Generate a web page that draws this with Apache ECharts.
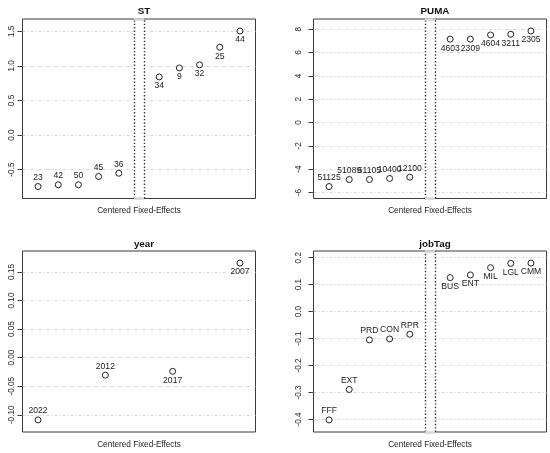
<!DOCTYPE html>
<html><head><meta charset="utf-8">
<script src="https://cdn.jsdelivr.net/npm/echarts@6/dist/echarts.min.js"></script>
<style>html,body{margin:0;padding:0;background:#fff}#c{width:550px;height:453px}</style>
</head><body><div id="c"></div>
<script>
// ---- data ----
const stCats = ['23','42','50','45','36','34','9','32','25','44'];
const stVals = [-0.745,-0.72,-0.72,-0.60,-0.553,0.84,0.97,1.015,1.27,1.505];
const stTicks = [-0.5,0,0.5,1.0,1.5];

const pumaCats = ['51125','51089','51105','10400','12100','4603','2309','4604','3211','2305'];
const pumaVals = [-5.49,-4.89,-4.89,-4.80,-4.69,7.15,7.15,7.51,7.57,7.85];
const pumaTicks = [-6,-4,-2,0,2,4,6,8];

const yearCats = ['2022','2012','2017','2007'];
const yearVals = [-0.109,-0.0306,-0.024,0.1655];
const yearTicks = [-0.10,-0.05,0,0.05,0.10,0.15];

const jobCats = ['FFF','EXT','PRD','CON','RPR','BUS','ENT','MIL','LGL','CMM'];
const jobVals = [-0.402,-0.289,-0.105,-0.1015,-0.084,0.126,0.136,0.163,0.179,0.180];
const jobTicks = [-0.4,-0.3,-0.2,-0.1,0,0.1,0.2];

const titles = ['ST','PUMA','year','jobTag'];
const xLabel = 'Centered Fixed-Effects';

// ---- layout ----
const FONT = 'Liberation Sans, Arial, Helvetica, sans-serif';
const panels = [
  {title: titles[0], cats: stCats, vals: stVals, ticks: stTicks, dec: 1, left: 22.5, top: 19, w: 233, h: 179.5, margin: 7, titleY: 1.5, nameGap: 8},
  {title: titles[1], cats: pumaCats, vals: pumaVals, ticks: pumaTicks, dec: 0, left: 313.5, top: 19, w: 233, h: 179.5, margin: 11, titleY: 1.5, nameGap: 8},
  {title: titles[2], cats: yearCats, vals: yearVals, ticks: yearTicks, dec: 2, left: 22.5, top: 251, w: 233, h: 181, margin: 7, titleY: 234.5, nameGap: 8.5},
  {title: titles[3], cats: jobCats, vals: jobVals, ticks: jobTicks, dec: 1, left: 313.5, top: 251, w: 233, h: 181, margin: 11, titleY: 234.5, nameGap: 8.5}
];

const grid = [], xAxis = [], yAxis = [], series = [], title = [];
panels.forEach((p, k) => {
  const n = p.cats.length;
  const hasGap = n >= 10 && n % 2 === 0;
  const half = n / 2;
  const xs = p.cats.map((c, i) => hasGap ? (i < half ? i + 1 : i + 2) : i + 1);
  const xmin = xs[0], xmax = xs[n - 1];
  const xext = 0.077 * (xmax - xmin);
  const ymin = Math.min(...p.vals), ymax = Math.max(...p.vals);
  const yext = 0.077 * (ymax - ymin);
  const y0 = ymin - yext, y1 = ymax + yext;

  grid.push({left: p.left, top: p.top, width: p.w, height: p.h, show: true,
    borderColor: '#3a3a3a', borderWidth: 1, backgroundColor: 'transparent'});
  title.push({text: p.title, left: p.left + p.w / 2, top: p.titleY, textAlign: 'center',
    textStyle: {fontFamily: FONT, fontSize: 9.8, fontWeight: 'bold', color: '#111'}});
  xAxis.push({type: 'value', gridIndex: k, min: xmin - xext, max: xmax + xext,
    axisLine: {show: false}, axisTick: {show: false}, axisLabel: {show: false}, splitLine: {show: false},
    name: xLabel, nameLocation: 'middle', nameGap: p.nameGap,
    nameTextStyle: {fontFamily: FONT, fontSize: 8.2, color: '#222'}});
  yAxis.push({type: 'value', gridIndex: k, min: y0, max: y1,
    axisLine: {show: false},
    axisTick: {show: true, length: 5, inside: false, customValues: p.ticks, lineStyle: {color: '#3a3a3a', width: 1}},
    axisLabel: {show: true, customValues: p.ticks, rotate: 90, margin: p.margin, fontFamily: FONT, fontSize: 8.2, color: '#222',
      formatter: v => Number(v).toFixed(p.dec)},
    splitLine: {show: true, lineStyle: {color: '#d2d2d2', width: 1, type: [3, 2, 1, 2]}}});

  const data = p.cats.map((c, i) => ({
    name: c, value: [xs[i], p.vals[i]],
    label: {position: i < half ? 'top' : 'bottom'}
  }));
  series.push({
    type: 'scatter', xAxisIndex: k, yAxisIndex: k, data: data,
    symbol: 'circle', symbolSize: 6,
    itemStyle: {color: '#fff', borderColor: '#222', borderWidth: 1, opacity: 1},
    label: {show: true, formatter: '{b}', distance: 1, fontFamily: FONT, fontSize: 8.6, color: '#222'},
    emphasis: {disabled: true}, silent: true, z: 5
  });
  if (hasGap) {
    const mid = (xs[half - 1] + xs[half]) / 2;
    const g1 = mid - 0.25, g2 = mid + 0.25;
    const dot = {color: '#333', width: 1.4, type: [1.4, 2]};
    const band = {color: '#d4d4d4', width: 2.5, type: 'solid'};
    series.push({
      type: 'scatter', xAxisIndex: k, yAxisIndex: k, data: [], silent: true, z: 3, clip: false,
      markArea: {silent: true, itemStyle: {color: '#fff', borderWidth: 0},
        data: [[{xAxis: g1}, {xAxis: g2}]]},
      markLine: {silent: true, symbol: 'none', label: {show: false}, animation: false,
        data: [
          {xAxis: g1, lineStyle: dot},
          {xAxis: g2, lineStyle: dot},
          [{coord: [g1, y1], lineStyle: band}, {coord: [g2, y1]}],
          [{coord: [g1, y0], lineStyle: band}, {coord: [g2, y0]}]
        ]}
    });
  }
});

const chart = echarts.init(document.getElementById('c'), null, {renderer: 'canvas'});
chart.setOption({animation: false, backgroundColor: '#fff', title, grid, xAxis, yAxis, series});
</script>
</body></html>
